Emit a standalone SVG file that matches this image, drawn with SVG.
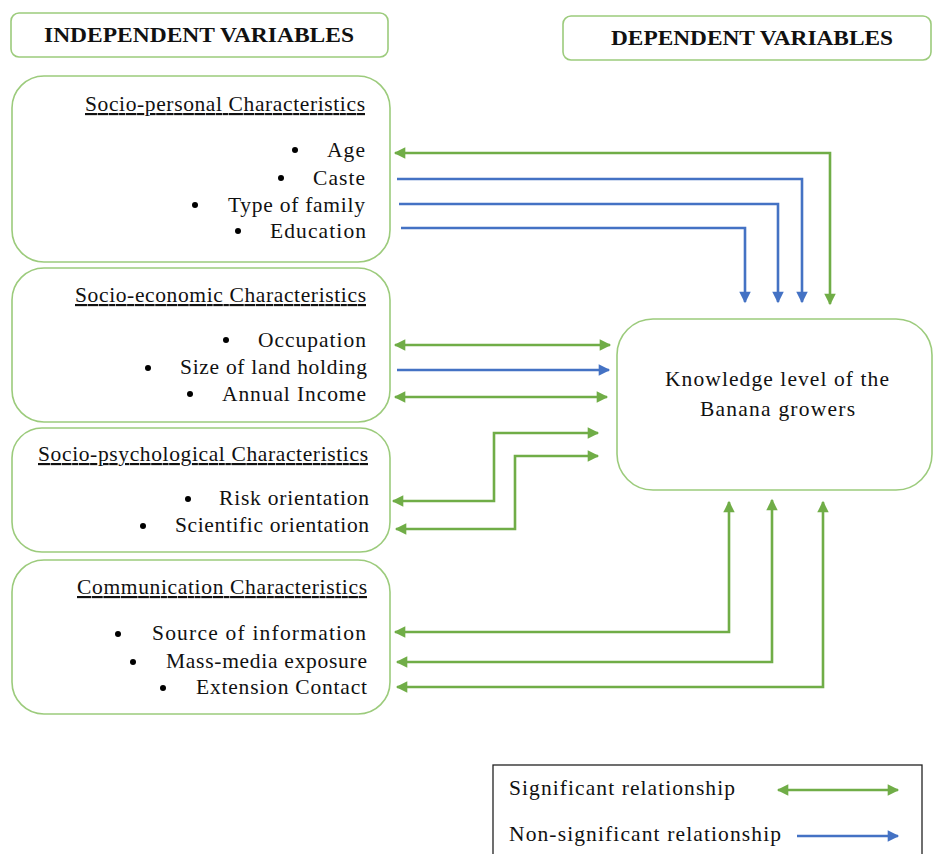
<svg xmlns="http://www.w3.org/2000/svg" width="933" height="854" viewBox="0 0 933 854">
<style>
.box{fill:#fff;stroke:#9CCB7C;stroke-width:1.6}
.t{font-family:"Liberation Serif","Times New Roman",serif;font-size:21.5px;fill:#111}
.h{font-family:"Liberation Serif","Times New Roman",serif;font-size:21px;font-weight:bold;fill:#111}
.u{text-decoration:underline}
.g{fill:none;stroke:#70AD47;stroke-width:2.6}
.b{fill:none;stroke:#4472C4;stroke-width:2.6}
</style>
<defs>
<marker id="ag" viewBox="0 0 10 10" refX="9" refY="5" markerWidth="4.8" markerHeight="4.4" orient="auto-start-reverse" markerUnits="strokeWidth">
<path d="M0,0 L10,5 L0,10 z" fill="#70AD47"/>
</marker>
<marker id="ab" viewBox="0 0 10 10" refX="9" refY="5" markerWidth="4.8" markerHeight="4.4" orient="auto-start-reverse" markerUnits="strokeWidth">
<path d="M0,0 L10,5 L0,10 z" fill="#4472C4"/>
</marker>
</defs>
<rect width="933" height="854" fill="#fff"/>

<g id="hdr-independent">
<rect class="box" x="11" y="13" width="377" height="44" rx="8"/>
<text class="h" x="44" y="42" textLength="310" lengthAdjust="spacingAndGlyphs">INDEPENDENT VARIABLES</text>
</g>
<g id="hdr-dependent">
<rect class="box" x="563" y="16" width="368" height="44" rx="8"/>
<text class="h" x="611" y="45" textLength="282" lengthAdjust="spacingAndGlyphs">DEPENDENT VARIABLES</text>
</g>

<g id="socio-personal">
<rect class="box" x="12" y="76" width="378" height="186" rx="32"/>
<text class="t u" x="85" y="111" textLength="280">Socio-personal Characteristics</text>
<text class="t" x="327" y="157" textLength="38">Age</text>
<text class="t" x="313" y="185" textLength="52">Caste</text>
<text class="t" x="228" y="212" textLength="137">Type of family</text>
<text class="t" x="270" y="238" textLength="96">Education</text>
<circle cx="295" cy="150" r="3"/>
<circle cx="281" cy="178" r="3"/>
<circle cx="195" cy="205" r="3"/>
<circle cx="238" cy="231" r="3"/>
</g>

<g id="socio-economic">
<rect class="box" x="12" y="268" width="378" height="154" rx="32"/>
<text class="t u" x="75" y="302" textLength="291">Socio-economic Characteristics</text>
<text class="t" x="258" y="347" textLength="108">Occupation</text>
<text class="t" x="180" y="374" textLength="187">Size of land holding</text>
<text class="t" x="222" y="401" textLength="144">Annual Income</text>
<circle cx="226" cy="340" r="3"/>
<circle cx="148" cy="368" r="3"/>
<circle cx="190" cy="394" r="3"/>
</g>

<g id="socio-psychological">
<rect class="box" x="12" y="428" width="378" height="124" rx="30"/>
<text class="t u" x="38" y="461" textLength="330">Socio-psychological Characteristics</text>
<text class="t" x="219" y="505" textLength="150">Risk orientation</text>
<text class="t" x="175" y="532" textLength="194">Scientific orientation</text>
<circle cx="188" cy="499" r="3"/>
<circle cx="143" cy="526" r="3"/>
</g>

<g id="communication">
<rect class="box" x="12" y="560" width="378" height="154" rx="32"/>
<text class="t u" x="77" y="594" textLength="290">Communication Characteristics</text>
<text class="t" x="152" y="640" textLength="214">Source of information</text>
<text class="t" x="166" y="668" textLength="201">Mass-media exposure</text>
<text class="t" x="196" y="694" textLength="171">Extension Contact</text>
<circle cx="118" cy="634" r="3"/>
<circle cx="133" cy="662" r="3"/>
<circle cx="163" cy="688" r="3"/>
</g>

<g id="knowledge">
<rect class="box" x="617" y="319" width="315" height="171" rx="36"/>
<text class="t" x="665" y="386" textLength="224">Knowledge level of the</text>
<text class="t" x="700" y="416" textLength="155">Banana growers</text>
</g>

<g id="connectors">
<path class="g" d="M395,153 H830 V304" marker-start="url(#ag)" marker-end="url(#ag)"/>
<path class="b" d="M397,179 H802 V302" marker-end="url(#ab)"/>
<path class="b" d="M399,204 H778 V302" marker-end="url(#ab)"/>
<path class="b" d="M401,228 H745 V302" marker-end="url(#ab)"/>
<path class="g" d="M395,345 H610" marker-start="url(#ag)" marker-end="url(#ag)"/>
<path class="b" d="M397,370 H609" marker-end="url(#ab)"/>
<path class="g" d="M395,397 H607" marker-start="url(#ag)" marker-end="url(#ag)"/>
<path class="g" d="M393,501 H494 V433 H598" marker-start="url(#ag)" marker-end="url(#ag)"/>
<path class="g" d="M396,529 H515 V456 H598" marker-start="url(#ag)" marker-end="url(#ag)"/>
<path class="g" d="M395,632 H729 V502" marker-start="url(#ag)" marker-end="url(#ag)"/>
<path class="g" d="M397,662 H772 V500" marker-start="url(#ag)" marker-end="url(#ag)"/>
<path class="g" d="M397,687 H823 V502" marker-start="url(#ag)" marker-end="url(#ag)"/>
</g>

<g id="legend">
<rect x="493" y="765" width="429" height="100" fill="#fff" stroke="#222" stroke-width="1.3"/>
<text class="t" x="509" y="795" textLength="226">Significant relationship</text>
<text class="t" x="509" y="841" textLength="272">Non-significant relationship</text>
<path class="g" d="M778,790 H898" marker-start="url(#ag)" marker-end="url(#ag)"/>
<path class="b" d="M797,836 H898" marker-end="url(#ab)"/>
</g>
</svg>
